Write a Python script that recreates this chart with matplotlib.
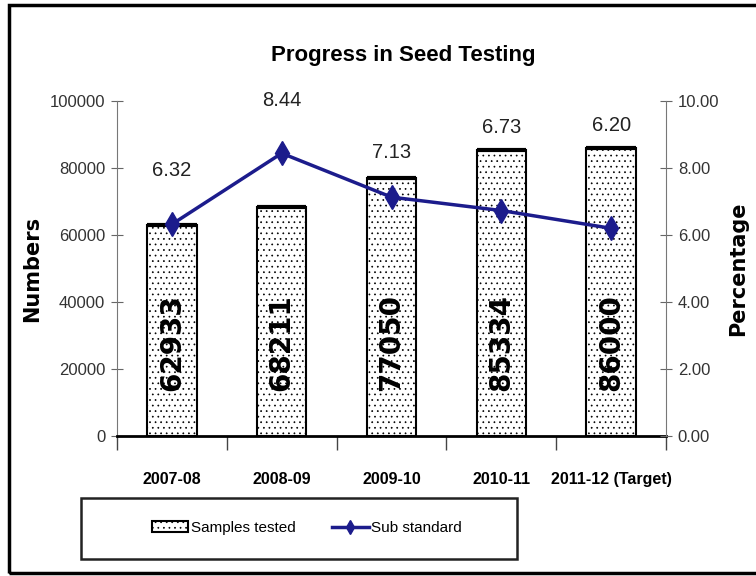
import numpy as np
import matplotlib
matplotlib.use('Agg')
import matplotlib.pyplot as plt
from matplotlib.patches import Rectangle

years = ['2007-08', '2008-09', '2009-10', '2010-11', '2011-12 (Target)']
samples = [62933, 68211, 77050, 85334, 86000]
sub_std = [6.32, 8.44, 7.13, 6.73, 6.20]

# label offsets above the line points (points), placed by hand in the original
lab_off = [39, 38, 32, 60, 74]

narrow = ['Liberation Sans', 'DejaVu Sans']
navy = '#1c1c8c'

plt.rcParams['hatch.color'] = '#8a8a8a'
plt.rcParams['hatch.linewidth'] = 0.5

fig = plt.figure(figsize=(7.56, 5.76), dpi=100)
ax = fig.add_axes([117/756, 1-436/576, 549/756, 335/576])

x = np.arange(len(years)) + 0.5
w = 0.45
ax.bar(x, samples, width=w, facecolor='white', edgecolor='black',
       linewidth=1.5, hatch='...', zorder=2)
ax.hlines(samples, x - w/2, x + w/2, color='black', linewidth=3, zorder=3)
for xi, v in zip(x, samples):
    ax.text(xi, 28000, str(v), rotation=90, ha='center', va='center',
            fontsize=20, fontweight='bold', color='black', zorder=4)

ax.set_xlim(0, 5)
ax.set_ylim(0, 100000)
ax.set_yticks(np.arange(0, 100001, 20000))
ax.set_xticks(np.arange(0, 6))
ax.set_xticklabels([])
ax.set_xticks(x, minor=True)
ax.set_xticklabels(years, minor=True, fontfamily=narrow, fontweight='bold',
                   fontsize=11.5)
ax.tick_params(axis='x', which='major', direction='out', length=10,
               color='#444444', width=1)
ax.tick_params(axis='x', which='minor', length=0, pad=26)
ax.tick_params(axis='y', direction='inout', length=9, color='#666666',
               labelsize=12, labelcolor='#333333', pad=4)
for t in ax.get_yticklabels():
    t.set_fontfamily(narrow)
for s in ['top', 'right']:
    ax.spines[s].set_visible(False)
ax.spines['left'].set_color('#777777')
ax.spines['bottom'].set_linewidth(2)
ax.set_ylabel('Numbers', fontsize=15, fontweight='bold')
ax.yaxis.set_label_coords(-(117 - 42) / 549, 0.5)

ax2 = ax.twinx()
ax2.plot(x, sub_std, color=navy, linewidth=2.5, marker='d', markersize=12,
         markeredgecolor=navy, zorder=5)
for xi, v, off in zip(x, sub_std, lab_off):
    ax2.annotate(f'{v:.2f}', (xi, v), xytext=(0, off), textcoords='offset points',
                 ha='center', va='center', fontsize=14.5, fontfamily=narrow,
                 color='#222222')
ax2.set_ylim(0, 10)
ax2.set_yticks(np.arange(0, 10.01, 2))
ax2.set_yticklabels([f'{v:.2f}' for v in np.arange(0, 10.01, 2)])
ax2.tick_params(axis='y', direction='inout', length=9, color='#666666',
                labelsize=12, labelcolor='#333333', pad=4)
for t in ax2.get_yticklabels():
    t.set_fontfamily(narrow)
for s in ['top', 'left', 'bottom']:
    ax2.spines[s].set_visible(False)
ax2.spines['right'].set_color('#777777')
ax2.set_ylabel('Percentage', fontsize=15, fontweight='bold')
ax2.yaxis.set_label_coords(1 + (728 - 666) / 549, 0.5)

fig.text(403/756, 1-55/576, 'Progress in Seed Testing', ha='center',
         va='center', fontsize=16, fontweight='bold', fontfamily=narrow)

# legend box
fig.add_artist(Rectangle((81/756, 1-559/576), 436/756, 61/576,
                         transform=fig.transFigure, fill=False,
                         edgecolor='#222222', linewidth=1.8))
h1 = ax.patches[0]
h2 = ax2.lines[0]
leg = fig.legend([h1, h2], ['Samples tested', 'Sub standard'],
                 loc='center left', bbox_to_anchor=(138/756, 1-528/576),
                 ncol=2, frameon=False, columnspacing=2.4, handlelength=2.4,
                 handletextpad=0.15, markerscale=0.6,
                 prop={'family': narrow, 'size': 11})

# outer border (left, top, bottom)
fig.add_artist(Rectangle((9/756, 1-573/576), 1.1, 568/576,
                         transform=fig.transFigure, fill=False,
                         edgecolor='black', linewidth=2.5))

fig.savefig('out.png', dpi=100)
